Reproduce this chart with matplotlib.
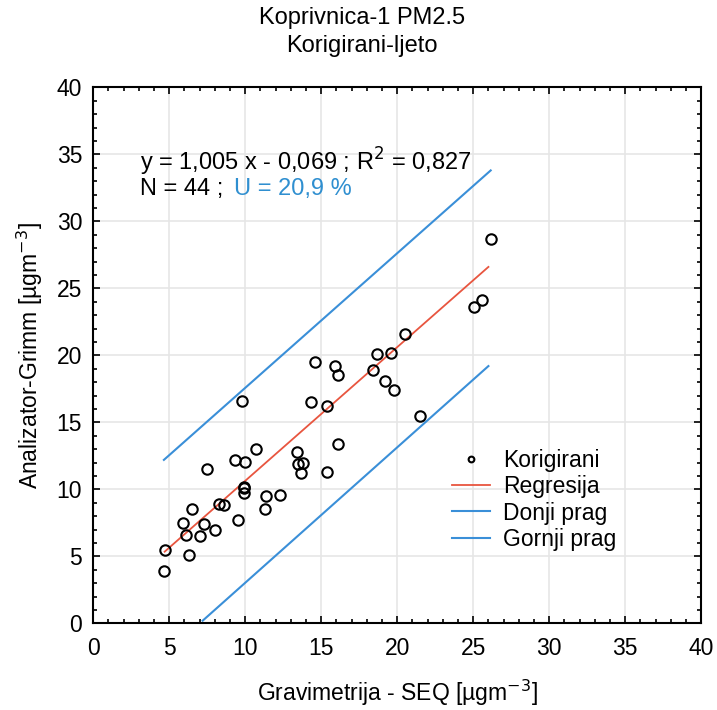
import matplotlib
matplotlib.use("Agg")
import matplotlib.pyplot as plt
import numpy as np
from matplotlib.ticker import MultipleLocator

plt.rcParams['font.family'] = ['Liberation Sans', 'DejaVu Sans']

# measured points (gravimetric vs. Grimm, corrected)
grav = [9.8, 10.7, 9.3, 10.0, 7.5, 9.9, 9.9, 11.4, 12.3, 11.3, 8.3, 8.6,
        6.5, 9.5, 5.9, 7.3, 6.1, 8.0, 7.0, 4.7, 6.3, 4.65, 20.5, 18.7,
        19.6, 14.6, 15.9, 16.1, 18.4, 19.2, 19.8, 14.3, 15.4, 21.5, 16.1,
        13.4, 13.5, 13.8, 13.65, 15.4, 26.15, 25.6, 25.05, 9.95]
grimm = [16.6, 13.0, 12.2, 12.07, 11.5, 10.2, 9.7, 9.5, 9.6, 8.5, 8.9, 8.8,
         8.5, 7.75, 7.5, 7.4, 6.6, 6.95, 6.5, 5.45, 5.1, 3.9, 21.6, 20.1,
         20.2, 19.5, 19.2, 18.55, 18.9, 18.1, 17.4, 16.5, 16.2, 15.5, 13.4,
         12.8, 11.9, 12.0, 11.25, 11.3, 28.7, 24.1, 23.6, 10.1]

# line ends
reg_x = [4.7, 26.0]
reg_y = [5.35, 26.6]
upper_x = [4.65, 26.15]
upper_y = [12.2, 33.8]
lower_x = [7.2, 26.0]
lower_y = [0.2, 19.2]

fig = plt.figure(figsize=(7.17, 7.10), dpi=100)
ax = fig.add_axes([0.130, 0.122, 0.848, 0.755])

ax.plot(grav, grimm, 'o', mfc='none', mec='black', ms=7.5, mew=1.5,
        zorder=4, label='Korigirani')
ax.plot(reg_x, reg_y, color='#e8553f', lw=1.3, label='Regresija', zorder=3)
ax.plot(upper_x, upper_y, color='#3a8fd8', lw=1.5, label='Donji prag', zorder=3)
ax.plot(lower_x, lower_y, color='#3a8fd8', lw=1.5, label='Gornji prag', zorder=3)

ax.set_xlim(0, 40)
ax.set_ylim(0, 40)
ax.xaxis.set_major_locator(MultipleLocator(5))
ax.yaxis.set_major_locator(MultipleLocator(5))
ax.xaxis.set_minor_locator(MultipleLocator(1))
ax.yaxis.set_minor_locator(MultipleLocator(1))
ax.tick_params(which='both', direction='in', top=True, right=True,
               labelsize=16.5, width=1.2)
ax.tick_params(which='major', length=5)
ax.tick_params(axis='x', which='major', pad=10)
ax.tick_params(axis='y', which='major', pad=8)
ax.tick_params(which='minor', length=3)
ax.grid(True, which='major', color='#e6e6e6', lw=1.2)
ax.set_axisbelow(True)
for s in ax.spines.values():
    s.set_linewidth(1.5)

ax.set_xlabel('Gravimetrija - SEQ [µgm$^{-3}$]', fontsize=16.5)
ax.set_ylabel('Analizator-Grimm [µgm$^{-3}$]', fontsize=16.5)
ax.xaxis.set_label_coords(0.5, -0.102)
ax.yaxis.set_label_coords(-0.08, 0.5)
fig.text(0.505, 1 - 32 / 710, 'Koprivnica-1 PM2.5\nKorigirani-ljeto',
         fontsize=17, ha='center', va='center', linespacing=1.3)

t1 = ax.text(3.05, 34.4, 'y = 1,005 x - 0,069 ; R$^2$ = 0,827',
             fontsize=17, va='center', ha='left')
t2 = ax.text(3.05, 32.4, 'N = 44 ;', fontsize=17, va='center', ha='left')
ax.annotate('U = 20,9 %', xy=(1, 0.5), xycoords=t2, xytext=(8, 0),
            textcoords='offset points', fontsize=17, va='center', ha='left',
            color='#2f8fd0')

ax.legend(loc='upper left', bbox_to_anchor=(0.59, 0.326), frameon=False,
          fontsize=16.5, handlelength=1.66, labelspacing=0.15,
          handletextpad=0.57, borderpad=0, borderaxespad=0, markerscale=0.55)

fig.savefig('out.png', dpi=100)
